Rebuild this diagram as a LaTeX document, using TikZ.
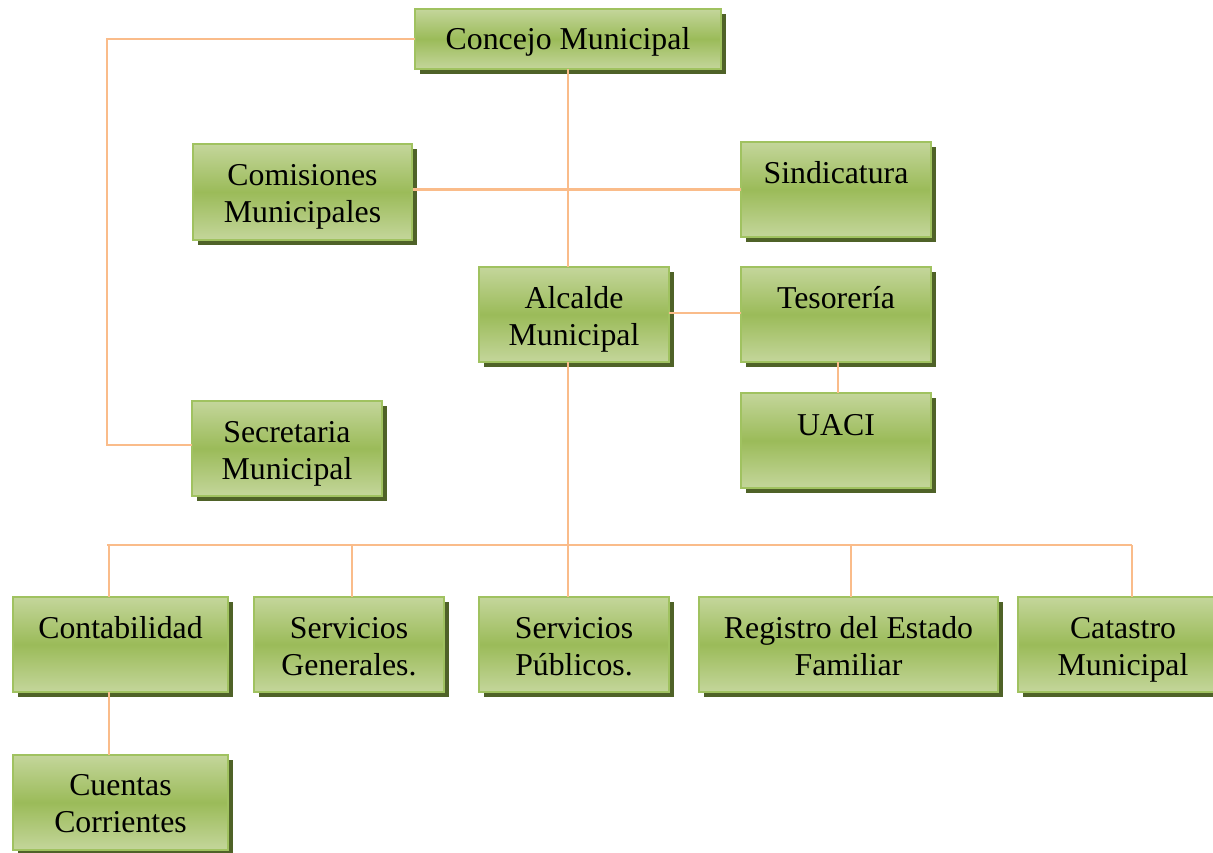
\documentclass[tikz,border=0pt]{standalone}
\usepackage{fontspec}
\setmainfont{Liberation Serif}
\usetikzlibrary{shadows}
\definecolor{boxmid}{RGB}{155,187,89}
\definecolor{boxlight}{RGB}{196,214,155}
\definecolor{boxborder}{RGB}{160,194,96}
\definecolor{boxshadow}{RGB}{79,98,40}
\definecolor{linkc}{RGB}{250,188,138}
\tikzset{
  orgbox/.style={rectangle, draw=boxborder, line width=2pt, inner sep=0pt, outer sep=0pt,
    top color=boxlight, bottom color=boxlight, middle color=boxmid,
    general shadow={fill=boxshadow, draw=none, shadow xshift=5pt, shadow yshift=-5pt}},
  txt/.style={anchor=base, inner sep=0pt, font=\fontsize{31.8pt}{37pt}\selectfont, text=black},
  link/.style={draw=linkc, line width=2.6pt}
}
\begin{document}
\begin{tikzpicture}[x=1pt,y=-1pt]
\useasboundingbox (0,0) rectangle (1213,852);
\coordinate (lbend) at (107,39);
\coordinate (d1) at (108,545);
\coordinate (d2) at (352,545);
\coordinate (d3) at (568,545);
\coordinate (d4) at (851,545);
\coordinate (d5) at (1132,545);
% boxes
\node[orgbox, minimum width=306pt, minimum height=60pt] (concejo) at (568,39) {};
\node[orgbox, minimum width=219pt, minimum height=96pt] (comis) at (302.5,192) {};
\node[orgbox, minimum width=190pt, minimum height=95pt] (sindic) at (836,189.5) {};
\node[orgbox, minimum width=190pt, minimum height=95pt] (alcalde) at (574,314.5) {};
\node[orgbox, minimum width=190pt, minimum height=95pt] (tesor) at (836,314.5) {};
\node[orgbox, minimum width=190pt, minimum height=95pt] (uaci) at (836,440.5) {};
\node[orgbox, minimum width=190pt, minimum height=95pt] (secre) at (287,448.5) {};
\node[orgbox, minimum width=215pt, minimum height=95pt] (conta) at (120.5,644.5) {};
\node[orgbox, minimum width=190pt, minimum height=95pt] (servg) at (349,644.5) {};
\node[orgbox, minimum width=190pt, minimum height=95pt] (servp) at (574,644.5) {};
\node[orgbox, minimum width=299pt, minimum height=95pt] (regis) at (848.5,644.5) {};
\node[orgbox, minimum width=210pt, minimum height=95pt] (catas) at (1123,644.5) {};
\node[orgbox, minimum width=215pt, minimum height=95pt] (cuent) at (120.5,802.5) {};
% connectors
\draw[link] (concejo.west) -- (lbend) |- ([yshift=3.5pt]secre.west);
\draw[link] (concejo.south) -- (concejo.south |- alcalde.north);
\draw[link] ([xshift=1pt]comis.east |- sindic.west) -- (sindic.west);
\draw[link] ([yshift=1.5pt]alcalde.east) -- ([yshift=1.5pt]tesor.west);
\draw[link] ([xshift=2pt]tesor.south) -- ([xshift=2pt]uaci.north);
\draw[link] (d3 |- alcalde.south) -- (d3);
\draw[link] ([xshift=-1pt]d1) -- (d5);
\draw[link] ([xshift=1pt]d1) -- ([xshift=1pt]d1 |- conta.north);
\draw[link] (d2) -- (d2 |- servg.north);
\draw[link] (d3) -- (d3 |- servp.north);
\draw[link] (d4) -- (d4 |- regis.north);
\draw[link] (d5) -- (d5 |- catas.north);
\draw[link] ([xshift=1pt]d1 |- conta.south) -- ([xshift=1pt]d1 |- cuent.north);
% texts
\node[txt] (t-concejo) at (568,49) {Concejo Municipal};
\node[txt] (t-comis1) at (302.5,185) {Comisiones};
\node[txt] (t-comis2) at (302.5,222) {Municipales};
\node[txt] (t-sindic) at (836,183) {Sindicatura};
\node[txt] (t-alc1) at (574,308) {Alcalde};
\node[txt] (t-alc2) at (574,345) {Municipal};
\node[txt] (t-tesor) at (836,308) {Tesorería};
\node[txt] (t-uaci) at (836,435) {UACI};
\node[txt] (t-secre1) at (287,442) {Secretaria};
\node[txt] (t-secre2) at (287,479) {Municipal};
\node[txt] (t-conta) at (120.5,638) {Contabilidad};
\node[txt] (t-servg1) at (349,638) {Servicios};
\node[txt] (t-servg2) at (349,675) {Generales.};
\node[txt] (t-servp1) at (574,638) {Servicios};
\node[txt] (t-servp2) at (574,675) {Públicos.};
\node[txt] (t-regis1) at (848.5,638) {Registro del Estado};
\node[txt] (t-regis2) at (848.5,675) {Familiar};
\node[txt] (t-catas1) at (1123,638) {Catastro};
\node[txt] (t-catas2) at (1123,675) {Municipal};
\node[txt] (t-cuent1) at (120.5,795) {Cuentas};
\node[txt] (t-cuent2) at (120.5,832) {Corrientes};
\end{tikzpicture}
\end{document}
